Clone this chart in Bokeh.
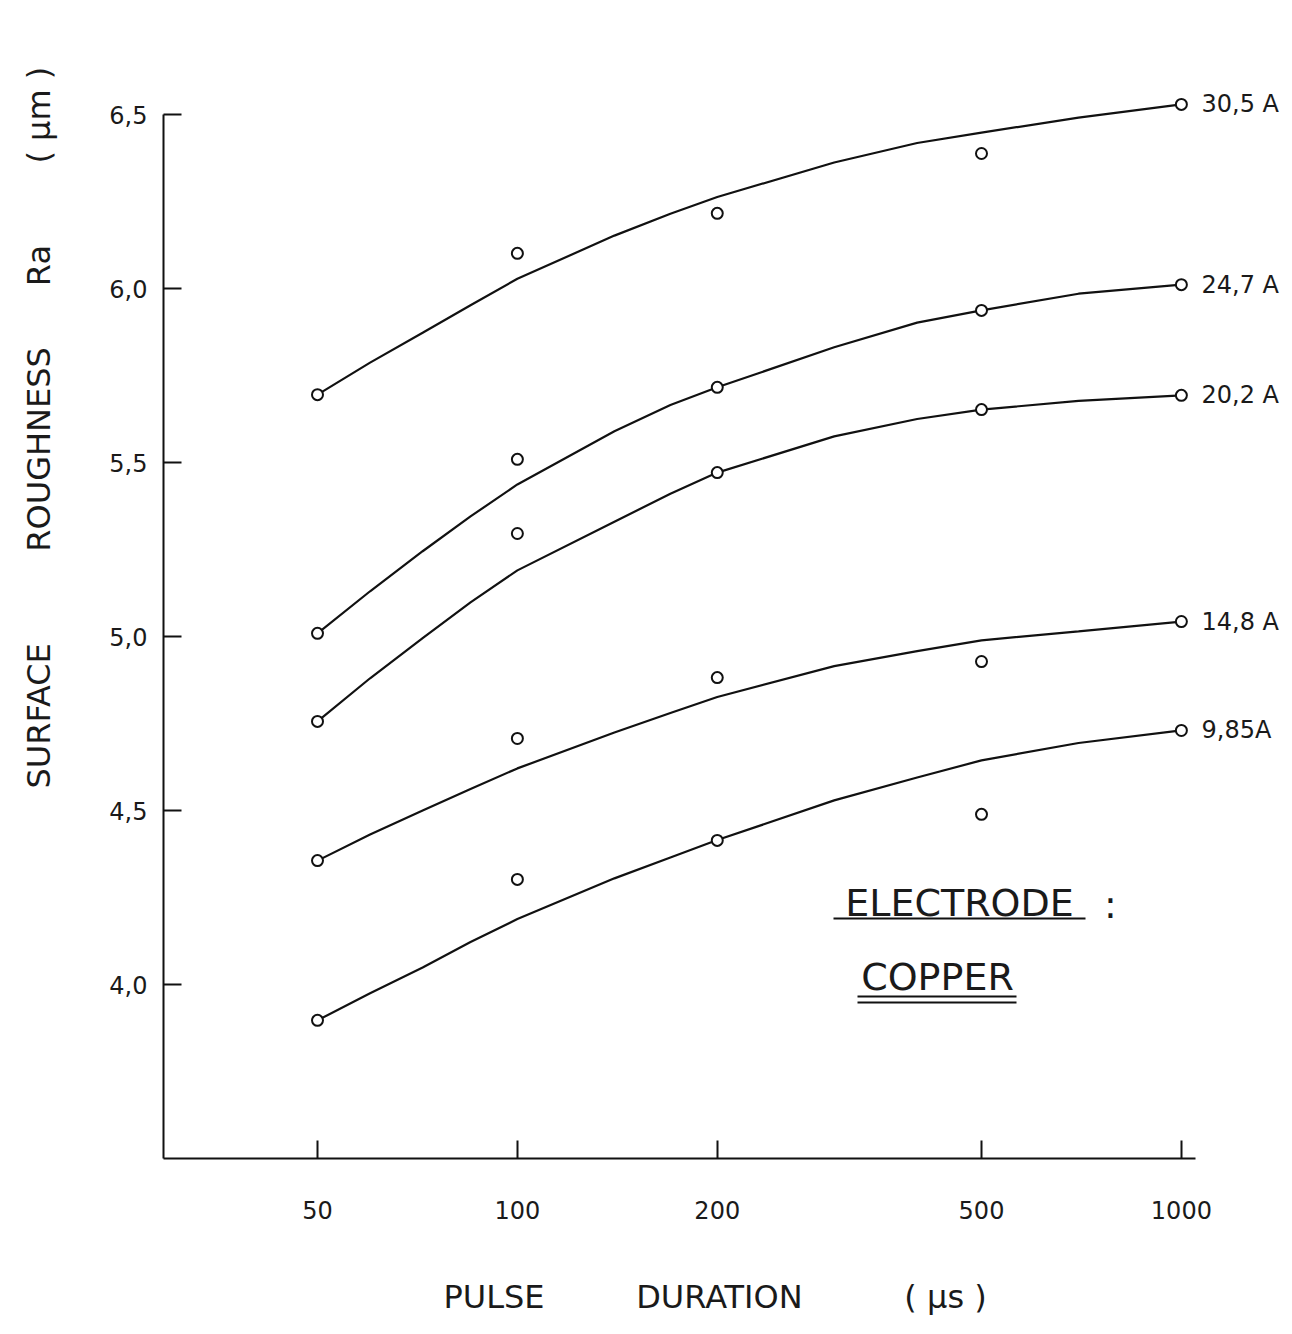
from bokeh.plotting import figure
from bokeh.models import FixedTicker, Label, LinearAxis
from bokeh.embed import file_html
from bokeh.resources import INLINE

# ---------------- data ----------------
pulse_us = [50, 100, 200, 500, 1000]
current_labels = ["30,5 A", "24,7 A", "20,2 A", "14,8 A", "9,85A"]

ra_30_5 = [5.695, 6.101, 6.216, 6.388, 6.529]
ra_24_7 = [5.009, 5.509, 5.716, 5.937, 6.011]
ra_20_2 = [4.756, 5.296, 5.471, 5.652, 5.693]
ra_14_8 = [4.356, 4.707, 4.882, 4.928, 5.043]
ra_9_85 = [3.897, 4.302, 4.414, 4.489, 4.730]

# fitted curves as drawn in the picture
curve_x = [50, 60, 72, 85, 100, 140, 170, 200, 300, 400, 500, 700, 1000]
curve_30_5 = [5.695, 5.787, 5.873, 5.952, 6.028, 6.152, 6.215, 6.263, 6.362, 6.418, 6.448, 6.491, 6.529]
curve_24_7 = [5.009, 5.130, 5.245, 5.345, 5.437, 5.590, 5.665, 5.716, 5.831, 5.902, 5.937, 5.985, 6.011]
curve_20_2 = [4.756, 4.880, 4.995, 5.098, 5.190, 5.330, 5.410, 5.471, 5.575, 5.625, 5.652, 5.677, 5.693]
curve_14_8 = [4.356, 4.431, 4.500, 4.562, 4.621, 4.724, 4.780, 4.826, 4.915, 4.958, 4.989, 5.015, 5.043]
curve_9_85 = [3.897, 3.975, 4.049, 4.122, 4.188, 4.305, 4.365, 4.415, 4.529, 4.595, 4.644, 4.694, 4.730]

x_ticks = [50, 100, 200, 500, 1000]
x_tick_labels = ["50", "100", "200", "500", "1000"]
y_ticks = [4.0, 4.5, 5.0, 5.5, 6.0, 6.5]
y_tick_labels = ["4,0", "4,5", "5,0", "5,5", "6,0", "6,5"]

NB = "\u00a0"
# leading no-break spaces shift the visible words along the axis
x_title = NB * 7 + "PULSE" + NB * 9 + "DURATION" + NB * 10 + "(" + NB + "µs" + NB + ")"
y_title = (NB * 39 + "SURFACE" + NB * 9 + "ROUGHNESS" + NB * 6 + "Ra" + NB * 8
           + "(" + NB + "µm" + NB + ")")

# ---------------- layout ----------------
W, H = 1292, 1334
FL, FR, FT, FB = 163, 1195, 93, 1158   # frame edges in pixels
PX_DECADE = 664.0                        # pixels per decade on x
PX_UNIT = 348.0                          # pixels per unit on y
X_REF_PX, X_REF = 317.0, 50.0
Y_BOTTOM = 3.5


def dx(px):
    return X_REF * 10 ** ((px - X_REF_PX) / PX_DECADE)


def dy(py):
    return Y_BOTTOM + (FB - py) / PX_UNIT


FONT = "DejaVu Sans"
INK = "#111111"
TXT = "#1a1a1a"

p = figure(width=W, height=H, x_axis_type="log",
           x_range=(dx(FL), dx(FR)), y_range=(Y_BOTTOM, dy(FT)),
           output_backend="svg", toolbar_location=None,
           min_border_left=FL, min_border_right=W - FR,
           min_border_top=FT, min_border_bottom=H - FB)
p.outline_line_color = None
p.grid.visible = False
p.background_fill_color = "white"
p.border_fill_color = "white"

# x axis
xa = p.xaxis[0]
xa.ticker = FixedTicker(ticks=x_ticks, minor_ticks=[])
xa.major_label_overrides = dict(zip(x_ticks, x_tick_labels))
xa.major_tick_in = 18
xa.major_tick_out = 0
xa.minor_tick_in = 0
xa.minor_tick_out = 0
xa.axis_line_width = 2
xa.major_tick_line_width = 2
xa.axis_line_color = INK
xa.major_tick_line_color = INK
xa.major_label_standoff = 42
xa.major_label_text_font = FONT
xa.major_label_text_font_size = "24px"
xa.major_label_text_color = TXT
xa.axis_label = x_title
xa.axis_label_standoff = 56
xa.axis_label_text_font = FONT
xa.axis_label_text_font_size = "32px"
xa.axis_label_text_font_style = "normal"
xa.axis_label_text_color = TXT

# y axis
ya = p.yaxis[0]
ya.ticker = FixedTicker(ticks=y_ticks, minor_ticks=[])
ya.major_label_overrides = dict(zip(y_ticks, y_tick_labels))
ya.bounds = (Y_BOTTOM, 6.5)
ya.major_tick_in = 18
ya.major_tick_out = 0
ya.minor_tick_in = 0
ya.minor_tick_out = 0
ya.axis_line_width = 2
ya.major_tick_line_width = 2
ya.axis_line_color = INK
ya.major_tick_line_color = INK
ya.major_label_standoff = 16
ya.major_label_text_font = FONT
ya.major_label_text_font_size = "24px"
ya.major_label_text_color = TXT
ya.axis_label = y_title
ya.axis_label_standoff = 48
ya.axis_label_text_font = FONT
ya.axis_label_text_font_size = "32px"
ya.axis_label_text_font_style = "normal"
ya.axis_label_text_color = TXT

# series
series = [
    (ra_30_5, curve_30_5),
    (ra_24_7, curve_24_7),
    (ra_20_2, curve_20_2),
    (ra_14_8, curve_14_8),
    (ra_9_85, curve_9_85),
]
for pts, curve in series:
    p.line(curve_x, curve, line_color=INK, line_width=2.2)
    p.scatter(pulse_us, pts, marker="circle", size=11, fill_color="white",
              line_color=INK, line_width=2)

# series names on the right, as labels of a bare right-hand axis
end_values = [pts[-1] for pts, _ in series]
ra = LinearAxis(ticker=FixedTicker(ticks=end_values, minor_ticks=[]),
                major_label_overrides=dict(zip(end_values, current_labels)),
                axis_line_color=None, major_tick_line_color=None,
                minor_tick_line_color=None, major_tick_in=0, major_tick_out=0,
                major_label_standoff=6, major_label_text_font=FONT,
                major_label_text_font_size="24px", major_label_text_color=TXT)
p.add_layout(ra, "right")

# electrode note
p.add_layout(Label(x=dx(959), y=dy(902), text="ELECTRODE", text_align="center",
                   text_baseline="middle", text_font=FONT, text_font_size="38px",
                   text_color=TXT))
p.add_layout(Label(x=dx(1110), y=dy(904), text=":", text_align="center",
                   text_baseline="middle", text_font=FONT, text_font_size="38px",
                   text_color=TXT))
p.add_layout(Label(x=dx(937), y=dy(976), text="COPPER", text_align="center",
                   text_baseline="middle", text_font=FONT, text_font_size="38px",
                   text_color=TXT))
p.line([dx(833), dx(1085)], [dy(918), dy(918)], line_color=INK, line_width=2)
p.line([dx(857), dx(1016)], [dy(996), dy(996)], line_color=INK, line_width=2)
p.line([dx(857), dx(1016)], [dy(1002), dy(1002)], line_color=INK, line_width=2)

open("out.html", "w").write(file_html(p, INLINE))
